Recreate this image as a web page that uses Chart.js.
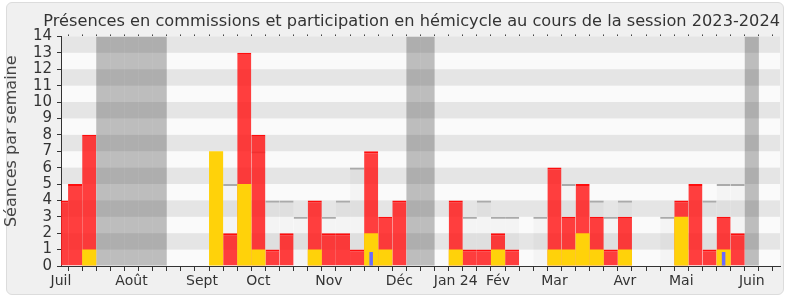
<!DOCTYPE html>
<html>
<head>
<meta charset="utf-8">
<script src="https://cdn.jsdelivr.net/npm/chart.js@4.4.1/dist/chart.umd.min.js"></script>
<style>
body { margin: 0; background: #fff; }
#box { position: absolute; left: 6px; top: 2px; width: 776px; height: 291px; background: #f0f0f0; border: 1px solid #dcdcdc; border-radius: 6px; }
#wrap { position: absolute; left: 0; top: 0; width: 790px; height: 300px; }
</style>
</head>
<body>
<div id="box"></div>
<div id="wrap"><canvas id="presences" width="790" height="300"></canvas></div>
<script>
// one slot per week, juillet 2023 -> juin 2024
var nbWeeks = 51;
var monthWeeks  = [0, 5, 10, 14, 19, 24, 28, 31, 35, 40, 44, 49];
var monthLabels = ["Juil", "Août", "Sept", "Oct", "Nov", "Déc", "Jan 24", "Fév", "Mar", "Avr", "Mai", "Juin"];
var vacationWeeks = [3, 4, 5, 6, 7, 25, 26, 49];
var yMax = 14;
var yTitle = "Séances par semaine";

// séances par semaine (null = rien)
var hemicycle = [4, 5, 8, null, null, null, null, null, null, null,
                 null, null, 2, 13, 8, 1, 2, null, 4, 2,
                 2, 1, 7, 3, 4, null, null, null, 4, 1,
                 1, 2, 1, null, null, 6, 3, 5, 3, 1,
                 3, null, null, null, 4, 5, 1, 3, 2, null, null];
var commission = [null, null, 1, null, null, null, null, null, null, null,
                  null, 7, null, 5, 1, null, null, null, 1, null,
                  null, null, 2, 1, null, null, null, null, 1, null,
                  null, 1, null, null, null, 1, 1, 2, 1, null,
                  1, null, null, null, 3, null, null, 1, null, null, null];
var questions = [];
questions[22] = 0.85;
questions[47] = 0.85;
var mediane = [];
mediane[12] = 5; mediane[14] = 7; mediane[15] = 4; mediane[16] = 4; mediane[17] = 3;
mediane[19] = 3; mediane[20] = 4; mediane[21] = 6; mediane[29] = 3; mediane[30] = 4;
mediane[31] = 3; mediane[32] = 3; mediane[34] = 3; mediane[36] = 5; mediane[38] = 4;
mediane[39] = 3; mediane[40] = 4; mediane[43] = 3; mediane[46] = 4; mediane[47] = 5;
mediane[48] = 5;

function toPoints(arr) {
    var pts = [];
    for (var i = 0; i < nbWeeks; i++) {
        pts.push({x: i, y: arr[i] === undefined ? null : arr[i]});
    }
    return pts;
}

var vacances = [];
vacationWeeks.forEach(function(w) { vacances[w] = yMax; });

var font = "'DejaVu Sans', sans-serif";

// alternating horizontal bands behind everything + y title a bit higher than chart.js puts it
var bandsPlugin = {
    id: "bands",
    beforeDraw: function(chart) {
        var ctx = chart.ctx, a = chart.chartArea, y = chart.scales.y;
        ctx.save();
        ctx.fillStyle = "#fafafa";
        ctx.fillRect(a.left, a.top, a.right - a.left, a.bottom - a.top);
        ctx.fillStyle = "#e5e5e5";
        for (var v = 1; v < yMax; v += 2) {
            var top = y.getPixelForValue(v + 1), bottom = y.getPixelForValue(v);
            ctx.fillRect(a.left, top, a.right - a.left, bottom - top);
        }
        ctx.restore();
    },
    afterDraw: function(chart) {
        var ctx = chart.ctx, a = chart.chartArea;
        ctx.save();
        ctx.translate(12, (a.top + a.bottom) / 2 - 10);
        ctx.rotate(-Math.PI / 2);
        ctx.font = "16px " + font;
        ctx.fillStyle = "#444";
        ctx.textAlign = "center";
        ctx.textBaseline = "middle";
        ctx.fillText(yTitle, 0, 0);
        ctx.restore();
    }
};

var ctx = document.getElementById("presences");
new Chart(ctx, {
    type: "bar",
    data: {
        datasets: [
            {
                data: toPoints(questions),
                backgroundColor: "#6a6aff",
                barPercentage: 0.25,
                categoryPercentage: 1,
                order: 0
            },
            {
                data: toPoints(commission),
                backgroundColor: "#ffd20a",
                order: 1
            },
            {
                data: toPoints(hemicycle),
                backgroundColor: "rgba(255,25,25,0.84)",
                borderColor: "rgba(255,0,0,0.95)",
                borderWidth: {top: 2, left: 0, right: 0, bottom: 0},
                order: 2
            },
            {
                data: toPoints(mediane),
                backgroundColor: "rgba(0,0,0,0.025)",
                borderColor: "#aaaaaa",
                borderWidth: {top: 2, left: 0, right: 0, bottom: 0},
                order: 3
            },
            {
                data: toPoints(vacances),
                backgroundColor: "rgba(40,40,40,0.29)",
                order: 4
            }
        ]
    },
    options: {
        responsive: false,
        animation: false,
        events: [],
        layout: { padding: {left: 0, right: 10, top: 0, bottom: 0} },
        datasets: {
            bar: { grouped: false, barPercentage: 1, categoryPercentage: 1, inflateAmount: 0 }
        },
        plugins: {
            legend: { display: false },
            tooltip: { enabled: false },
            title: {
                display: true,
                text: "Présences en commissions et participation en hémicycle au cours de la session 2023-2024",
                align: "end",
                color: "#333",
                font: { family: font, size: 16.2, weight: "normal" },
                padding: { top: 12, bottom: 3 }
            }
        },
        scales: {
            x: {
                type: "linear",
                min: 0,
                max: nbWeeks,
                offset: false,
                afterBuildTicks: function(scale) {
                    var t = [];
                    for (var i = 0; i <= nbWeeks; i++) t.push({value: i});
                    scale.ticks = t;
                },
                afterFit: function(scale) { scale.height = 34; },
                ticks: {
                    autoSkip: false,
                    maxRotation: 0,
                    color: "#333",
                    padding: 2,
                    font: { family: font, size: 14 },
                    callback: function(value) {
                        var k = monthWeeks.indexOf(value);
                        return k >= 0 ? monthLabels[k] : "";
                    }
                },
                grid: { drawOnChartArea: false, tickLength: 5, color: "#333" },
                border: { color: "#333", width: 1 }
            },
            xTop: {
                type: "linear",
                position: "top",
                min: 0,
                max: nbWeeks,
                offset: false,
                afterBuildTicks: function(scale) {
                    var t = [];
                    for (var i = 0; i <= nbWeeks; i++) t.push({value: i});
                    scale.ticks = t;
                },
                afterFit: function(scale) { scale.height = 2; },
                ticks: { display: false },
                grid: { drawOnChartArea: false, tickLength: 2, color: "#444" },
                border: { display: false }
            },
            y: {
                min: 0,
                max: yMax,
                afterFit: function(scale) { scale.width = 61; },
                ticks: {
                    stepSize: 1,
                    autoSkip: false,
                    color: "#333",
                    padding: 5,
                    font: { family: font, size: 15 }
                },
                grid: { drawOnChartArea: false, tickLength: 4, color: "#333" },
                border: { color: "#333", width: 1 }
            }
        }
    },
    plugins: [bandsPlugin]
});
</script>
</body>
</html>
